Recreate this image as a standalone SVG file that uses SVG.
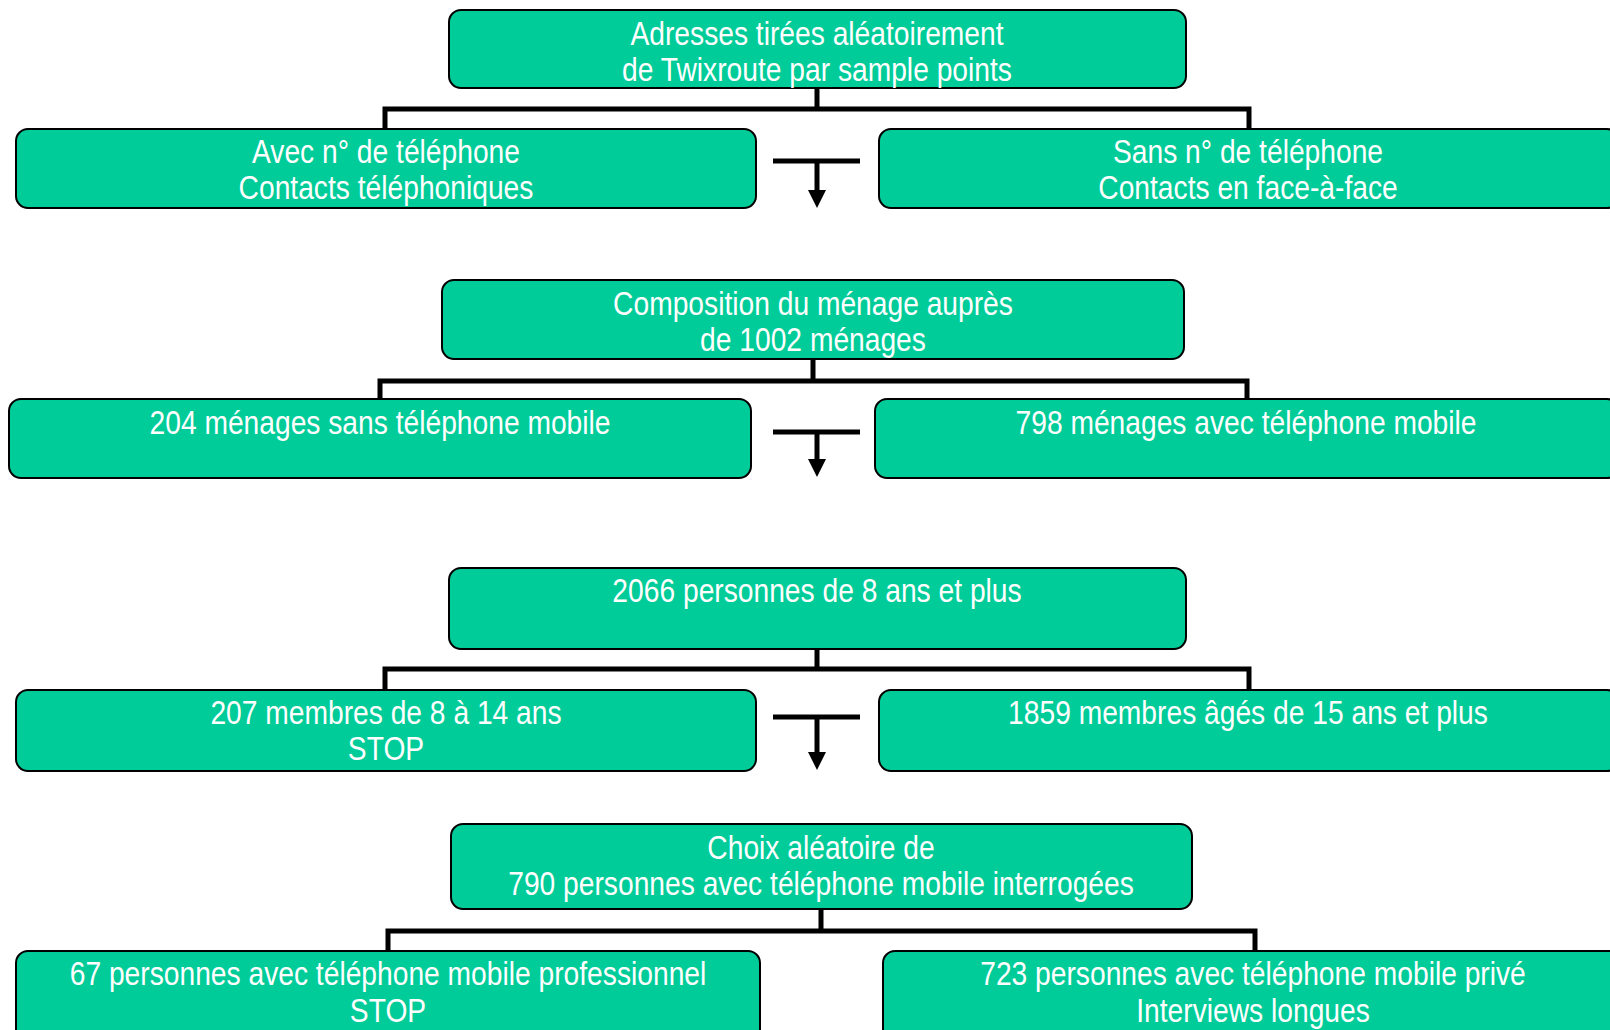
<svg xmlns="http://www.w3.org/2000/svg" width="1610" height="1030" viewBox="0 0 1610 1030">
<defs>
<style>
.box{fill:#00CC99;stroke:#000;stroke-width:2}
.t{font-family:"Liberation Sans","Arial",sans-serif;font-size:33px;fill:#fff;text-anchor:middle}
.c{fill:none;stroke:#000;stroke-width:5}
</style>
</defs>
<rect width="1610" height="1030" fill="#fff"/>
<g id="connectors">
<path class="c" d="M817,88 V109 M385,129 V109 H1249 V129"/>
<path class="c" d="M773,161 H860"/>
<path class="c" d="M817,161 V192"/>
<path d="M808,190 L826,190 L817,208 Z"/>
<path class="c" d="M813,359 V381 M380,399 V381 H1247 V399"/>
<path class="c" d="M773,432 H860"/>
<path class="c" d="M817,432 V461"/>
<path d="M808,459 L826,459 L817,477 Z"/>
<path class="c" d="M817,649 V669 M385,690 V669 H1249 V690"/>
<path class="c" d="M773,717 H860"/>
<path class="c" d="M817,717 V754"/>
<path d="M808,752 L826,752 L817,770 Z"/>
<path class="c" d="M821,909 V931 M388,951 V931 H1255 V951"/>
</g>
<g id="n1"><rect class="box" x="449" y="10" width="737" height="78" rx="12"/><text class="t" transform="translate(817,45) scale(0.855,1)">Adresses tirées aléatoirement</text><text class="t" transform="translate(817,81) scale(0.855,1)">de Twixroute par sample points</text></g>
<g id="n2"><rect class="box" x="16" y="129" width="740" height="79" rx="12"/><text class="t" transform="translate(386,163) scale(0.855,1)">Avec n° de téléphone</text><text class="t" transform="translate(386,199) scale(0.855,1)">Contacts téléphoniques</text></g>
<g id="n3"><rect class="box" x="879" y="129" width="740" height="79" rx="12"/><text class="t" transform="translate(1248,163) scale(0.855,1)">Sans n° de téléphone</text><text class="t" transform="translate(1248,199) scale(0.855,1)">Contacts en face-à-face</text></g>
<g id="n4"><rect class="box" x="442" y="280" width="742" height="79" rx="12"/><text class="t" transform="translate(813,315) scale(0.855,1)">Composition du ménage auprès</text><text class="t" transform="translate(813,351) scale(0.855,1)">de 1002 ménages</text></g>
<g id="n5"><rect class="box" x="9" y="399" width="742" height="79" rx="12"/><text class="t" transform="translate(380,434) scale(0.855,1)">204 ménages sans téléphone mobile</text></g>
<g id="n6"><rect class="box" x="875" y="399" width="744" height="79" rx="12"/><text class="t" transform="translate(1246,434) scale(0.855,1)">798 ménages avec téléphone mobile</text></g>
<g id="n7"><rect class="box" x="449" y="568" width="737" height="81" rx="12"/><text class="t" transform="translate(817,602) scale(0.855,1)">2066 personnes de 8 ans et plus</text></g>
<g id="n8"><rect class="box" x="16" y="690" width="740" height="81" rx="12"/><text class="t" transform="translate(386,724) scale(0.855,1)">207 membres de 8 à 14 ans</text><text class="t" transform="translate(386,760) scale(0.855,1)">STOP</text></g>
<g id="n9"><rect class="box" x="879" y="690" width="740" height="81" rx="12"/><text class="t" transform="translate(1248,724) scale(0.855,1)">1859 membres âgés de 15 ans et plus</text></g>
<g id="n10"><rect class="box" x="451" y="824" width="741" height="85" rx="12"/><text class="t" transform="translate(821,859) scale(0.855,1)">Choix aléatoire de</text><text class="t" transform="translate(821,895) scale(0.855,1)">790 personnes avec téléphone mobile interrogées</text></g>
<g id="n11"><rect class="box" x="16" y="951" width="744" height="90" rx="12"/><text class="t" transform="translate(388,985) scale(0.855,1)">67 personnes avec téléphone mobile professionnel</text><text class="t" transform="translate(388,1022) scale(0.855,1)">STOP</text></g>
<g id="n12"><rect class="box" x="883" y="951" width="740" height="90" rx="12"/><text class="t" transform="translate(1253,985) scale(0.855,1)">723 personnes avec téléphone mobile privé</text><text class="t" transform="translate(1253,1022) scale(0.855,1)">Interviews longues</text></g>
</svg>
